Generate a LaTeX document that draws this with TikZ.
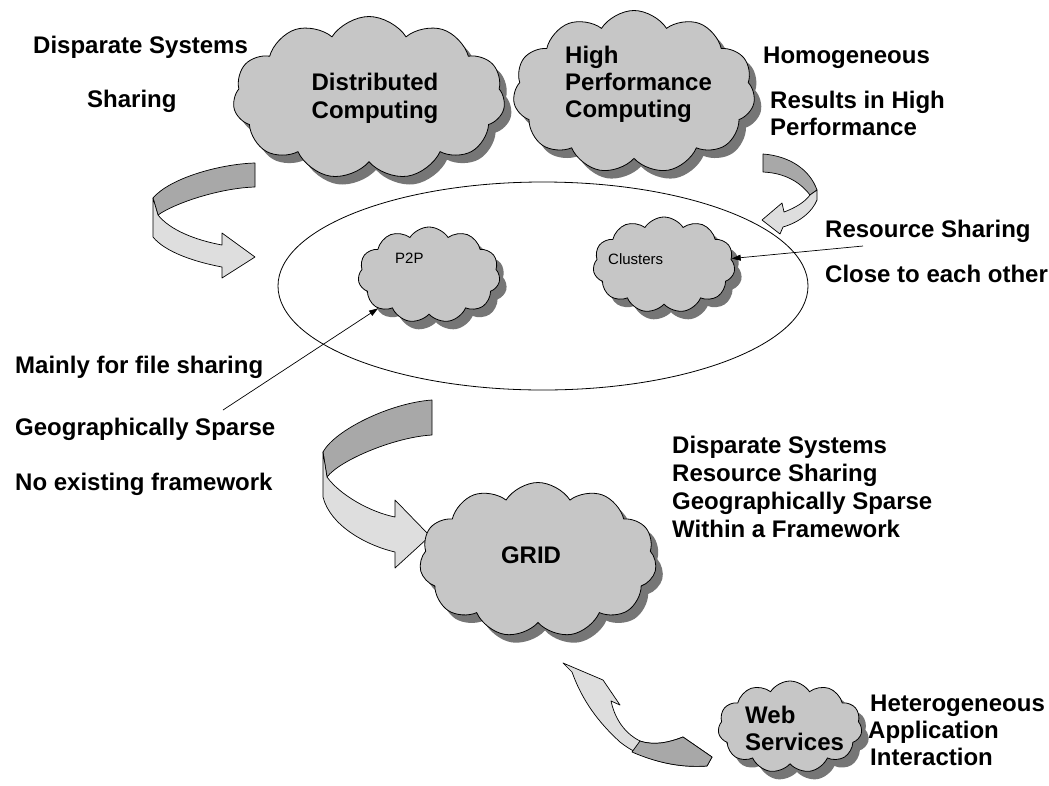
\documentclass[tikz,border=0pt]{standalone}
\usepackage{fontspec}
\setmainfont{Liberation Sans}
\usetikzlibrary{shapes.symbols,shapes.geometric,shadows,arrows.meta}
\definecolor{cloudfill}{RGB}{198,198,198}
\definecolor{cloudshadow}{RGB}{118,118,118}
\definecolor{banddark}{RGB}{168,168,168}
\definecolor{bandlight}{RGB}{222,222,222}
\tikzset{
  cloudbox/.style={cloud, cloud puffs=11, cloud puff arc=115, cloud ignores aspect,
    draw=black, line width=0.8pt, fill=cloudfill, inner sep=0pt,
    drop shadow={shadow xshift=7pt, shadow yshift=-8pt, fill=cloudshadow, opacity=1}},
  big/.style={font=\fontsize{24}{27.5}\selectfont\bfseries, inner sep=0pt},
  lbl/.style={big, anchor=base west},
  small/.style={font=\fontsize{15}{18}\selectfont, inner sep=0pt, anchor=base west},
  banddk/.style={draw=black, line width=0.7pt, line join=round, fill=banddark},
  bandlt/.style={draw=black, line width=0.7pt, line join=round, fill=bandlight},
  pointer/.style={draw=black, line width=0.7pt, -{Triangle[length=9pt,width=6pt]}},
  groupring/.style={ellipse, draw=black, line width=0.8pt, inner sep=0pt}
}
\begin{document}
\begin{tikzpicture}[x=1pt,y=-1pt]
\fill[white] (0,0) rectangle (1049,785);
\useasboundingbox (0,0) rectangle (1049,785);

% block arrow: distributed -> group
\path[banddk] (255,163) .. controls (220,164) and (170,178) .. (153,198) -- (158,215)
  .. controls (175,203) and (220,188) .. (255,187) -- cycle;
\path[bandlt] (153,198) -- (153,237) .. controls (165,252) and (195,262) .. (222,267)
  -- (222,278) -- (255,257) -- (222,233) -- (222,245)
  .. controls (195,240) and (170,230) .. (158,215) -- cycle;

% block arrow: HPC -> group
\path[banddk] (763,154) .. controls (790,156) and (810,170) .. (817,190) -- (810,195)
  .. controls (800,182) and (785,173) .. (763,172) -- cycle;
\path[bandlt] (817,190) -- (817,200) .. controls (812,212) and (800,222) .. (783,227)
  -- (780,234) -- (762,220) -- (782,203) -- (784,212)
  .. controls (795,208) and (805,202) .. (810,195) -- cycle;

% block arrow: group -> GRID
\path[banddk] (432,400) .. controls (390,403) and (335,430) .. (323,452) -- (327,477)
  .. controls (340,460) and (395,437) .. (432,435) -- cycle;
\path[bandlt] (323,452) -- (323,497) .. controls (330,525) and (365,545) .. (395,552)
  -- (395,568) -- (430,536) -- (395,500) -- (395,517)
  .. controls (370,512) and (340,495) .. (327,477) -- cycle;

% curved arrow: web services -> GRID
\path[bandlt] (563,663) -- (603,680) -- (620,705) -- (611,701)
  .. controls (614,715) and (622,732) .. (640,741)
  .. controls (655,746) and (670,742) .. (683,737) -- (712,757) -- (707,766)
  .. controls (680,768) and (645,762) .. (620,742)
  .. controls (598,722) and (582,700) .. (572,672) -- cycle;
\path[banddk] (640,741) .. controls (655,746) and (670,742) .. (683,737) -- (712,757)
  -- (707,766) .. controls (680,768) and (655,762) .. (632,752) -- cycle;

% grouping ellipse
\node[groupring, minimum width=530pt, minimum height=208pt] (grp) at (543,286) {};

% clouds
\node[cloudbox, minimum width=272pt, minimum height=163pt] (dc) at (369,98) {};
\node[cloudbox, minimum width=242pt, minimum height=163pt] (hpc) at (634,92) {};
\node[cloudbox, minimum width=142pt, minimum height=96pt] (p2p) at (429,275) {};
\node[cloudbox, minimum width=142pt, minimum height=96pt] (clusters) at (664,265) {};
\node[cloudbox, minimum width=237pt, minimum height=155pt] (grid) at (538,560) {};
\node[cloudbox, minimum width=144pt, minimum height=92pt] (web) at (790,727) {};

% cloud texts
\node[big, anchor=base] (dct1) at (375,90) {Distributed};
\node[big, anchor=base] (dct2) at (375,118) {Computing};
\node[lbl] (hpct1) at (565,63) {High};
\node[lbl] (hpct2) at (565,90) {Performance};
\node[lbl] (hpct3) at (565,117) {Computing};
\node[small] (p2pt) at (395,263) {P2P};
\node[small] (clut) at (608,264) {Clusters};
\node[big, anchor=base] (gridt) at (531,563) {GRID};
\node[lbl] (webt1) at (745,723) {Web};
\node[lbl] (webt2) at (745,750) {Services};

% side texts
\node[lbl] (t1) at (33,53) {Disparate Systems};
\node[lbl] (t2) at (87,107) {Sharing};
\node[lbl] (t3) at (763,63) {Homogeneous};
\node[lbl] (t4) at (770,108) {Results in High};
\node[lbl] (t5) at (770,135) {Performance};
\node[lbl] (t6) at (825,237) {Resource Sharing};
\node[lbl] (t7) at (825,282) {Close to each other};
\node[lbl] (t8) at (15,373) {Mainly for file sharing};
\node[lbl] (t9) at (15,435) {Geographically Sparse};
\node[lbl] (t10) at (15,490) {No existing framework};
\node[lbl] (t11) at (672,453) {Disparate Systems};
\node[lbl] (t12) at (672,481) {Resource Sharing};
\node[lbl] (t13) at (672,509) {Geographically Sparse};
\node[lbl] (t14) at (672,537) {Within a Framework};
\node[lbl] (t15) at (870,711) {Heterogeneous};
\node[lbl] (t16) at (868,738) {Application};
\node[lbl] (t17) at (870,765) {Interaction};

% pointers
\coordinate (rsfrom) at (863,246);
\coordinate (gsfrom) at (223,410);
\draw[pointer] (rsfrom) -- (clusters);
\draw[pointer] (gsfrom) -- (p2p);
\end{tikzpicture}
\end{document}
